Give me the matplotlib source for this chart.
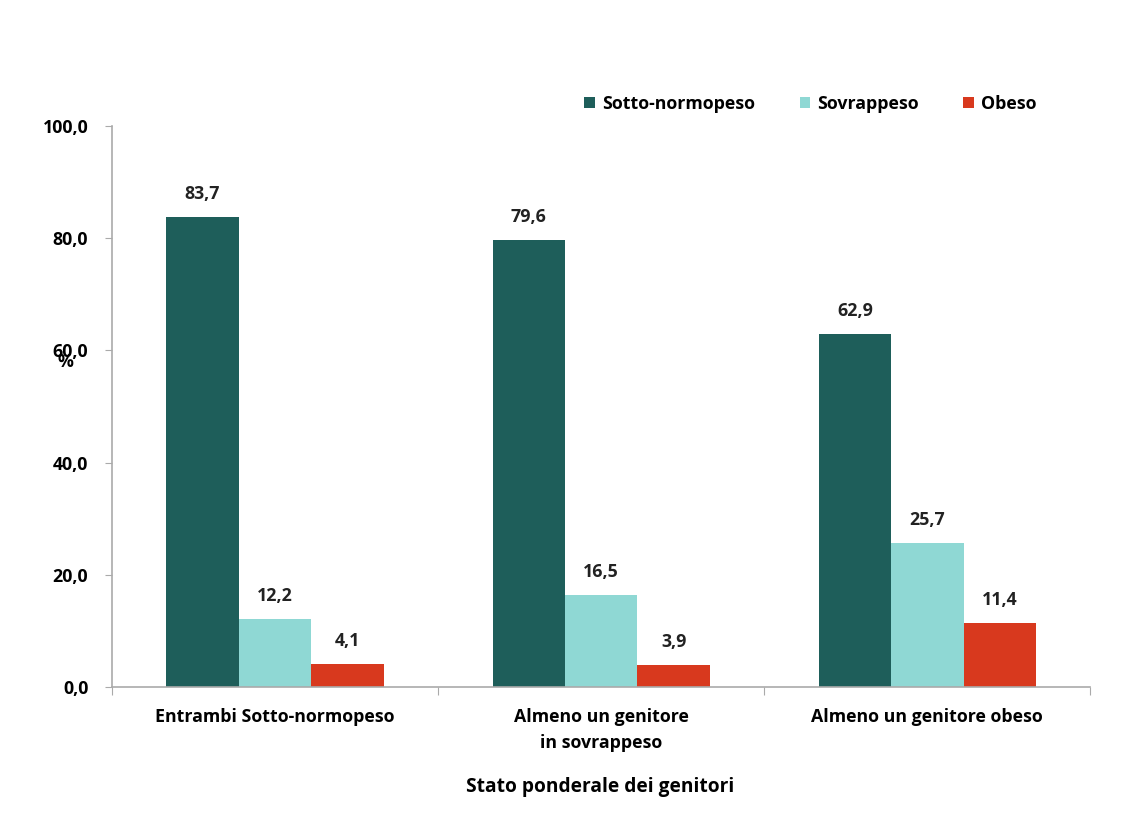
import numpy as np
import matplotlib.pyplot as plt

plt.rcParams['font.family'] = ['Open Sans', 'DejaVu Sans']
plt.rcParams['font.weight'] = 'bold'

groups = ["Entrambi Sotto-normopeso", "Almeno un genitore\nin sovrappeso", "Almeno un genitore obeso"]
series = ["Sotto-normopeso", "Sovrappeso", "Obeso"]
sotto = [83.7, 79.6, 62.9]
sovra = [12.2, 16.5, 25.7]
obeso = [4.1, 3.9, 11.4]
colors = ["#1e5e5a", "#8fd8d4", "#d8391e"]

fs = 12.8
fig = plt.figure(figsize=(11.30, 8.27), dpi=100)
ax = fig.add_axes([0.099, 0.169, 0.866, 0.679])

x = np.arange(len(groups))
w = 0.222
for i, (name, vals) in enumerate(zip(series, [sotto, sovra, obeso])):
    pos = x + (i - 1) * w
    ax.bar(pos, vals, width=w, color=colors[i], label=name)
    for px, v in zip(pos, vals):
        ax.text(px, v + 2.5, f"{v:.1f}".replace(".", ","), ha="center", va="bottom",
                fontsize=fs, fontweight="bold", color="#222222")

ax.set_xlim(-0.5, 2.5)
ax.set_ylim(0, 100)
ax.set_yticks(range(0, 101, 20))
ax.set_yticklabels([f"{v},0" for v in range(0, 101, 20)], fontsize=fs, fontweight="bold")
ax.set_xticks([-0.5, 0.5, 1.5, 2.5])
ax.set_xticklabels([])
ax.set_xticks(x, minor=True)
ax.set_xticklabels(groups, minor=True, fontsize=fs, fontweight="bold", linespacing=1.6)
ax.tick_params(axis="x", which="minor", length=0, pad=15)
ax.tick_params(axis="x", which="major", length=6, color="#aaaaaa")
ax.tick_params(axis="y", length=5, color="#aaaaaa", pad=12)

for s in ["top", "right"]:
    ax.spines[s].set_visible(False)
for s in ["left", "bottom"]:
    ax.spines[s].set_color("#aaaaaa")
    ax.spines[s].set_linewidth(1.2)

fig.text(0.058, 1 - 362 / 827, "%", fontsize=fs, fontweight="bold", ha="center", va="center")
fig.text(0.531, 1 - 787 / 827, "Stato ponderale dei genitori", fontsize=13.8,
         fontweight="bold", ha="center", va="center")

fig.legend(loc="center left", bbox_to_anchor=(0.503, 1 - 104 / 827), ncol=3, frameon=False,
           fontsize=fs, handlelength=0.6, handleheight=0.6, columnspacing=2.5, handletextpad=0.4)

fig.savefig("out.png", dpi=100)
